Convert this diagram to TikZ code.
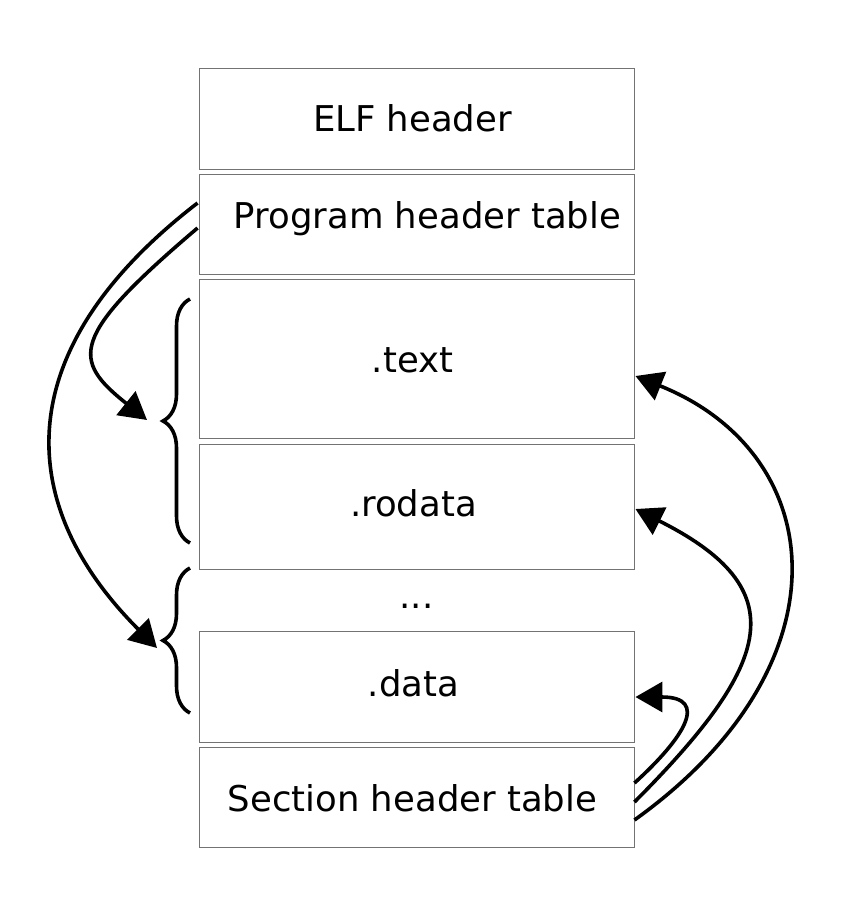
\documentclass[tikz,border=0pt]{standalone}
\usepackage{fontspec}
\setmainfont{DejaVu Sans}
\usepackage{tikz}
\usetikzlibrary{arrows.meta,calc,decorations.pathreplacing}
\tikzset{
  sect/.style={draw=black!55,line width=0.9pt,minimum width=435pt,inner sep=0pt},
  link/.style={line width=3.6pt,-{Triangle[length=27pt,width=30pt]}},
  grp/.style={line width=3.6pt,decorate,decoration={brace,amplitude=27pt}}
}

\begin{document}
\begin{tikzpicture}[x=1pt,y=-1pt,font=\fontsize{35.5}{42}\selectfont]
\useasboundingbox (0,0) rectangle (840,920);
\node[sect,minimum height=101pt,label={[name=elfl,xshift=-4pt,yshift=0pt]center:ELF header}] (elf) at (416.5,118.5) {}; % ELF header
\node[sect,minimum height=100pt,label={[name=phtl,xshift=11pt,yshift=5pt]center:Program header table}] (pht) at (416.5,224) {}; % program headers
\node[sect,minimum height=159pt,label={[name=textl,xshift=-4pt,yshift=-2pt]center:.text}] (text) at (416.5,358.5) {}; % code
\node[sect,minimum height=125pt,label={[name=rodatal,xshift=-3pt,yshift=3pt]center:.rodata}] (rodata) at (416.5,506.5) {}; % read-only data
\node (dots) at (416.5,606) {...}; % more sections
\node[sect,minimum height=111pt,label={[name=datal,xshift=-3pt,yshift=3pt]center:.data}] (data) at (416.5,686.5) {}; % data
\node[sect,minimum height=100pt,label={[name=shtl,xshift=-4pt,yshift=-1pt]center:Section header table}] (sht) at (416.5,797) {}; % section headers
% segment braces
\draw[grp] (190,543) -- (190,299); % segment 1
\draw[grp] (190,713) -- (190,568); % segment 2
% end points
\coordinate (p1) at ($(pht.west)+(-1,-21)$);
\coordinate (p2) at ($(pht.west)+(-1,4)$);
\coordinate (seg1) at (147,420);
\coordinate (seg2) at (157,648);
\coordinate (s1) at ($(sht.east)+(0,23)$);
\coordinate (s2) at ($(sht.east)+(0,5)$);
\coordinate (s3) at ($(sht.east)+(0,-14)$);
\coordinate (t1) at ($(text.east)+(1,17.5)$);
\coordinate (t2) at ($(rodata.east)+(1,2.5)$);
\coordinate (t3) at ($(data.east)+(1,10.5)$);
% program header links
\draw[link] (p2) .. controls (68,338) and (72,360) .. (seg1); % to segment 1
\draw[link] (p1) .. controls (3,353) and (17,508) .. (seg2); % to segment 2
% section header links
\draw[link] (s1) .. controls (851,665) and (830,454) .. (t1); % to .text
\draw[link] (s2) .. controls (774,662) and (795,589) .. (t2); % to .rodata
\draw[link] (s3) .. controls (684,738) and (710,697) .. (t3); % to .data
\end{tikzpicture}
\end{document}
